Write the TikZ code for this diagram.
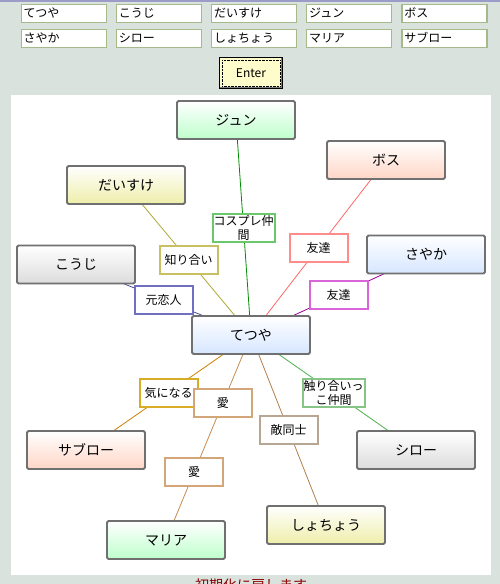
\documentclass[tikz,border=0pt]{standalone}
\usepackage{fontspec}
\setmainfont{Noto Sans CJK JP}
\usepackage{xcolor}
\usetikzlibrary{positioning}
\definecolor{pagebg}{HTML}{DAE2DD}
\definecolor{fieldline}{HTML}{A5B98A}
\definecolor{boxline}{HTML}{707070}
\definecolor{shGreen}{HTML}{BEFFCC}
\definecolor{shOrange}{HTML}{FFD6C6}
\definecolor{shYellow}{HTML}{EEEEAA}
\definecolor{shGray}{HTML}{DCDCDC}
\definecolor{shBlue}{HTML}{D6E6FF}
\pgfdeclarelayer{back}
\pgfdeclarelayer{links}
\pgfsetlayers{back,links,main}

\begin{document}
\begin{tikzpicture}[x=1pt,y=-1pt,
  person/.style={draw=boxline,line width=1.8pt,rounded corners=1.5pt,top color=white,bottom color=#1,
    minimum width=118pt,minimum height=38pt,font=\fontsize{14}{16}\selectfont},
  rel/.style={draw=#1,fill=white,line width=2pt,minimum width=58pt,minimum height=28pt,
    inner sep=1pt,align=center,font=\fontsize{12}{14}\selectfont},
  field/.style={draw=fieldline,fill=white,line width=1.2pt,text width=80pt,minimum height=18pt,
    inner xsep=2.5pt,inner ysep=1pt,align=left,font=\fontsize{12}{14}\selectfont},
  link/.style={line width=0.8pt}]
\useasboundingbox (0,0) rectangle (500,584);
\begin{pgfonlayer}{back}
\fill[pagebg] (0,0) rectangle (500,584);
\fill[blue!30!gray!60] (0,0) rectangle (500,2);
\fill[white] (11,95) rectangle (491,575);
\end{pgfonlayer}

% name fields
\node[field,anchor=north west] (f1) at (20.5,3.5) {てつや};
\node[field,right=9pt of f1] (f2) {こうじ};
\node[field,right=9pt of f2] (f3) {だいすけ};
\node[field,right=9pt of f3] (f4) {ジュン};
\node[field,right=9pt of f4] (f5) {ボス};
\node[field,anchor=north west] (f6) at (20.5,28.5) {さやか};
\node[field,right=9pt of f6] (f7) {シロー};
\node[field,right=9pt of f7] (f8) {しょちょう};
\node[field,right=9pt of f8] (f9) {マリア};
\node[field,right=9pt of f9] (f10) {サブロー};
\node[draw,line width=1.4pt,fill=yellow!20,minimum width=63pt,minimum height=31pt,
  font=\fontsize{12}{14}\selectfont] (enter) at (251,73) {Enter};
\draw[gray,line width=1pt] ([shift={(1.5,-1.5)}]enter.south west) -- ([shift={(-1.5,-1.5)}]enter.south east)
  -- ([shift={(-1.5,1.5)}]enter.north east);
\draw[densely dotted] ([shift={(3.5,3.5)}]enter.north west) rectangle ([shift={(-3.5,-3.5)}]enter.south east);

% people
\node[person=shBlue] (tetsuya) at (251,335) {てつや};
\node[person=shGreen] (jun) at (236,120) {ジュン};
\node[person=shOrange] (boss) at (386,160) {ボス};
\node[person=shYellow] (daisuke) at (126,185) {だいすけ};
\node[person=shGray] (kouji) at (76,264.5) {こうじ};
\node[person=shBlue] (sayaka) at (426,254.5) {さやか};
\node[person=shGray] (shiro) at (416,450) {シロー};
\node[person=shYellow] (shocho) at (326,525) {しょちょう};
\node[person=shGreen] (maria) at (166,540) {マリア};
\node[person=shOrange] (saburo) at (86,450) {サブロー};

% relations
\begin{pgfonlayer}{links}
\draw[link,draw=green!55!black] (tetsuya.center) -- node[rel=green!45!gray!80]{コスプレ仲\\間} (jun.center);
\draw[link,draw=red!60] (tetsuya.center) -- node[rel=red!45]{友達} (boss.center);
\draw[link,draw=violet!80!magenta] (tetsuya.center) -- node[rel=violet!50!magenta!60]{友達} (sayaka.center);
\draw[link,draw=olive!70] (tetsuya.center) -- node[rel=olive!50]{知り合い} (daisuke.center);
\draw[link,draw=blue!40!black!70] (tetsuya.center) -- node[rel=blue!40!gray!80]{元恋人} (kouji.center);
\draw[link,draw=orange!60!olive] (tetsuya.center) -- node[rel=orange!50!yellow!70!gray]{気になる} (saburo.center);
\draw[link,draw=brown!90] (tetsuya.center) -- node[rel=brown!70,pos=0.33]{愛} node[rel=brown!70,pos=0.67]{愛} (maria.center);
\draw[link,draw=brown!80!gray] (tetsuya.center) -- node[rel=brown!40!gray!70]{敵同士} (shocho.center);
\draw[link,draw=green!40!gray] (tetsuya.center) -- node[rel=green!35!gray!70]{触り合いっ\\こ仲間} (shiro.center);
\end{pgfonlayer}

\node[anchor=north,inner sep=0,text=red!55!black,font=\fontsize{14}{16}\selectfont] (note) at (251,579) {初期化に戻します};
\end{tikzpicture}
\end{document}
